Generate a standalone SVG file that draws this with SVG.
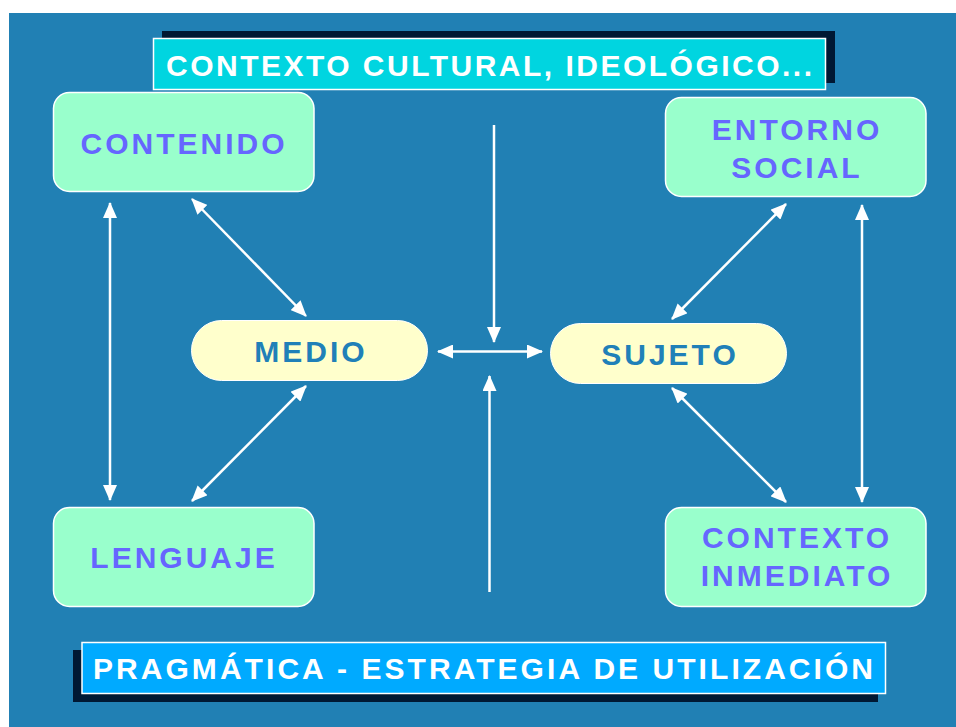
<svg xmlns="http://www.w3.org/2000/svg" width="956" height="727" viewBox="0 0 956 727">
<style>
.box{fill:#99ffcc;stroke:#ffffff;stroke-width:1.5}
.pill{fill:#ffffcc;stroke:#ffffff;stroke-width:1}
.t{font-family:"Liberation Sans",Arial,sans-serif;font-weight:bold;font-size:30px;fill:#6666ff;text-anchor:middle;letter-spacing:3px}
.tp{font-family:"Liberation Sans",Arial,sans-serif;font-weight:bold;font-size:30px;fill:#2080b8;text-anchor:middle;letter-spacing:3px}
.bt{font-family:"Liberation Sans",Arial,sans-serif;font-weight:bold;font-size:30px;fill:#ffffff}
.c{stroke:#ffffff;stroke-width:2.5;fill:none}
</style>
<defs>
<marker id="ah" markerUnits="userSpaceOnUse" markerWidth="16" markerHeight="14" refX="15" refY="7" orient="auto-start-reverse">
<path d="M0,0 L16,7 L0,14 Z" fill="#ffffff"/>
</marker>
</defs>
<rect x="0" y="0" width="956" height="727" fill="#ffffff"/>
<rect x="9" y="13" width="947" height="714" fill="#2180b4"/>

<g id="banner-top">
<rect x="162" y="31" width="673" height="52" fill="#001833"/>
<rect x="153.5" y="38.5" width="672" height="51" fill="#00d5e0" stroke="#ffffff" stroke-width="1.5"/>
<text class="bt" x="166" y="76" textLength="646" lengthAdjust="spacing">CONTEXTO CULTURAL, IDEOLÓGICO...</text>
</g>

<g id="banner-bottom">
<rect x="73" y="650" width="805" height="52" fill="#001833"/>
<rect x="82" y="642.5" width="803.5" height="51" fill="#00aaff" stroke="#ffffff" stroke-width="1.5"/>
<text class="bt" x="93" y="679" textLength="780" lengthAdjust="spacing">PRAGMÁTICA - ESTRATEGIA DE UTILIZACIÓN</text>
</g>

<g id="contenido">
<rect class="box" x="53.5" y="92.5" width="260.5" height="99" rx="16"/>
<text class="t" x="184" y="154">CONTENIDO</text>
</g>
<g id="entorno-social">
<rect class="box" x="665.5" y="97.5" width="260.5" height="99" rx="16"/>
<text class="t" x="797" y="140">ENTORNO</text>
<text class="t" x="797" y="178">SOCIAL</text>
</g>
<g id="lenguaje">
<rect class="box" x="53.5" y="507.5" width="260.5" height="99" rx="16"/>
<text class="t" x="184" y="568">LENGUAJE</text>
</g>
<g id="contexto-inmediato">
<rect class="box" x="665.5" y="507.5" width="260.5" height="99" rx="16"/>
<text class="t" x="797" y="548">CONTEXTO</text>
<text class="t" x="797" y="586">INMEDIATO</text>
</g>
<g id="medio">
<rect class="pill" x="191.5" y="320.5" width="236" height="60" rx="30"/>
<text class="tp" x="311" y="362">MEDIO</text>
</g>
<g id="sujeto">
<rect class="pill" x="550.5" y="323.5" width="236" height="60" rx="30"/>
<text class="tp" x="670" y="365">SUJETO</text>
</g>

<g id="connectors">
<line class="c" x1="110" y1="203" x2="110" y2="500" marker-start="url(#ah)" marker-end="url(#ah)"/>
<line class="c" x1="192" y1="199" x2="306" y2="316" marker-start="url(#ah)" marker-end="url(#ah)"/>
<line class="c" x1="192" y1="501" x2="306" y2="386" marker-start="url(#ah)" marker-end="url(#ah)"/>
<line class="c" x1="786" y1="204" x2="672" y2="319" marker-start="url(#ah)" marker-end="url(#ah)"/>
<line class="c" x1="672" y1="388" x2="786" y2="502" marker-start="url(#ah)" marker-end="url(#ah)"/>
<line class="c" x1="862" y1="205" x2="862" y2="502" marker-start="url(#ah)" marker-end="url(#ah)"/>
<line class="c" x1="438" y1="351.5" x2="542" y2="351.5" marker-start="url(#ah)" marker-end="url(#ah)"/>
<line class="c" x1="494" y1="125" x2="494" y2="342" marker-end="url(#ah)"/>
<line class="c" x1="489.5" y1="592" x2="489.5" y2="376" marker-end="url(#ah)"/>
</g>
</svg>
